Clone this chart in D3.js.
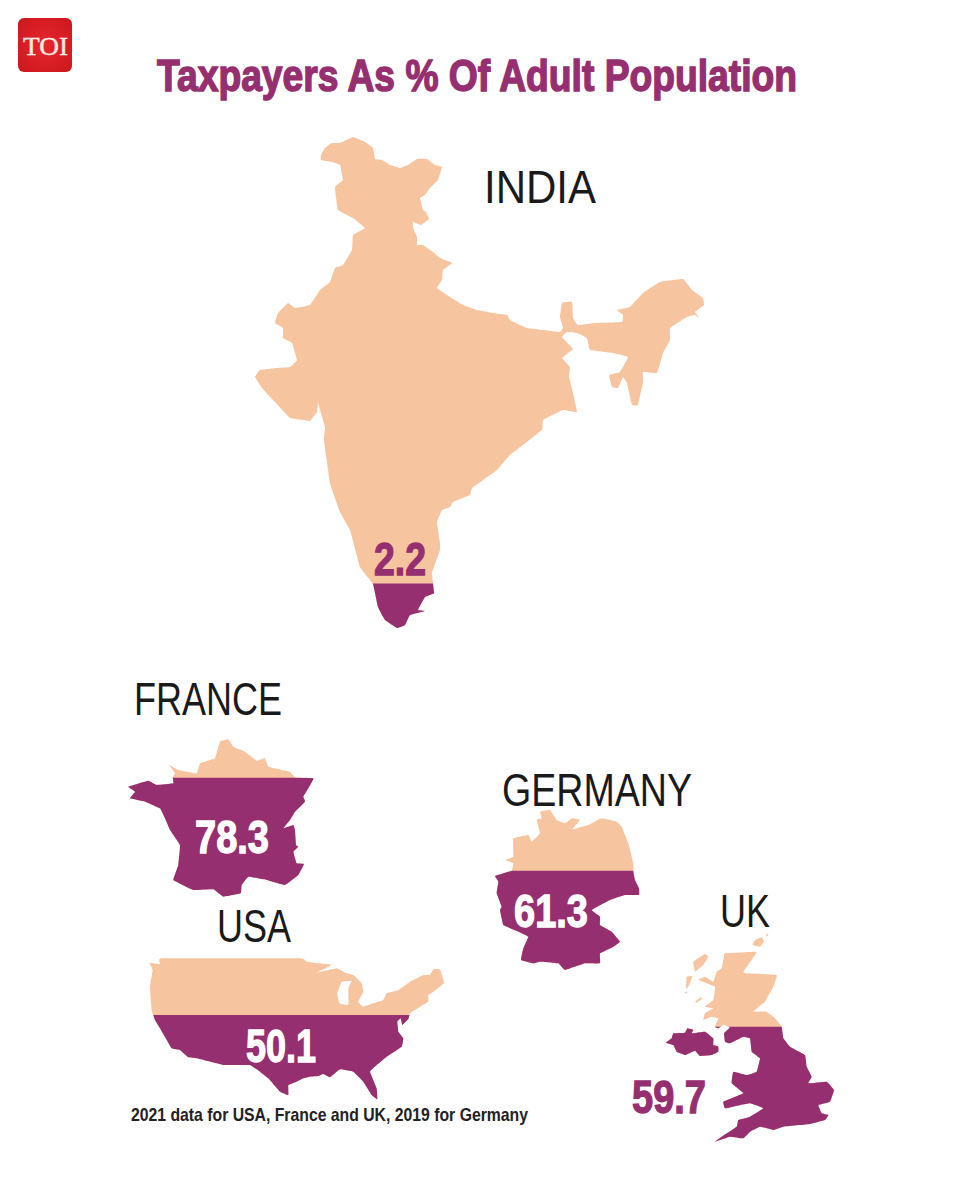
<!DOCTYPE html>
<html>
<head>
<meta charset="utf-8">
<style>
  html, body { margin: 0; background: #fff; }
  svg { display: block; }
  text { font-family: "Liberation Sans Narrow", "Liberation Sans", sans-serif; }
</style>
<script src="https://cdn.jsdelivr.net/npm/d3@7"></script>
</head>
<body>
<div id="chart"></div>
<script>
const titleText = "Taxpayers As % Of Adult Population";
const noteText = "2021 data for USA, France and UK, 2019 for Germany";
const countries = ["INDIA", "FRANCE", "USA", "GERMANY", "UK"];
const shares = [2.2, 78.3, 50.1, 61.3, 59.7];

// outlines are traced in each map's own local units, every ring closes on itself
const indiaRings = [[
  [71,25],[75,18],[82,13],[90,13],[103,7],[115,12],[123,18],[125,29],[132,30],[140,35],[150,38],[158,35],[167,29],[177,29],
  [185,35],[192,37],[188,50],[180,58],[175,65],[170,68],[173,80],[176,82],[179,89],[171,95],[163,92],[163,98],[167,107],
  [167,115],[173,115],[183,122],[190,128],[202,133],[193,140],[192,150],[187,158],[200,167],[213,175],[227,180],[243,183],
  [257,185],[260,190],[270,195],[277,198],[293,200],[310,202],[313,198],[310,187],[312,173],[322,172],[323,188],[328,195],
  [345,193],[372,192],[373,185],[367,180],[380,177],[393,163],[410,152],[433,149],[442,160],[453,168],[454,175],[445,182],
  [450,188],[445,185],[437,187],[420,198],[420,210],[413,223],[407,243],[393,242],[393,252],[388,275],[382,275],[377,253],
  [373,247],[368,258],[362,257],[359,245],[370,242],[378,227],[363,223],[340,220],[337,208],[327,203],[317,202],[312,207],
  [323,219],[312,228],[320,237],[319,247],[323,263],[327,282],[313,280],[293,290],[292,300],[260,325],[247,340],[222,358],
  [220,365],[203,372],[200,377],[192,380],[187,392],[190,413],[190,420],[182,443],[184,463],[175,467],[168,480],[175,481],
  [160,485],[155,495],[147,498],[135,490],[128,477],[123,454],[110,437],[100,400],[90,382],[80,353],[74,310],[75,297],
  [68,273],[67,282],[60,291],[53,290],[40,288],[25,272],[12,258],[5,247],[10,240],[27,238],[40,237],[47,230],[42,213],
  [33,208],[33,198],[25,193],[28,183],[38,173],[45,178],[60,175],[70,160],[80,152],[85,138],[93,135],[102,120],[103,105],
  [115,98],[103,88],[88,80],[85,57],[93,50],[90,35],[82,32],[71,30]
]];
const franceRings = [[
  [300,35],[325,28],[340,50],[375,65],[410,92],[435,85],[445,110],[510,125],[525,142],[580,145],[565,175],[550,200],[555,215],
  [525,245],[510,270],[490,295],[520,285],[525,300],[528,345],[535,350],[520,365],[530,400],[552,402],[535,435],[495,465],
  [440,450],[385,440],[365,465],[362,490],[310,500],[280,478],[220,480],[160,450],[175,405],[180,345],[150,300],[135,265],
  [120,235],[75,215],[30,205],[45,185],[25,170],[85,152],[110,165],[160,160],[158,142],[165,130],[148,105],[175,120],[230,130],
  [240,100],[285,85]
]];
const usaRings = [[
  [28,38],[60,42],[65,25],[480,25],[500,35],[540,40],[575,45],[530,68],[590,55],[615,68],[640,75],[665,100],[670,125],[655,155],
  [670,170],[700,160],[730,150],[740,130],[775,120],[810,95],[850,75],[870,75],[880,58],[900,58],[912,100],[880,125],[865,135],
  [865,155],[840,170],[810,190],[805,207],[787,225],[782,205],[772,215],[775,245],[790,265],[785,290],[740,320],[710,345],
  [690,365],[710,415],[712,448],[695,435],[670,395],[640,365],[600,358],[570,382],[550,372],[535,378],[510,380],[490,385],[470,395],
  [445,405],[445,435],[420,425],[385,385],[360,365],[330,345],[310,345],[280,345],[250,345],[170,325],[145,322],[120,300],[95,295],
  [60,235],[45,210],[35,180],[30,110],[38,60]
], [
  [605,95],[635,92],[625,115],[625,165],[598,160],[592,130]
]];
const germanyRings = [[
  [165,35],[195,30],[215,60],[240,70],[262,55],[285,60],[262,88],[310,75],[350,55],[395,65],[410,80],[430,130],[445,190],[445,215],
  [450,240],[462,265],[462,285],[420,285],[375,300],[320,330],[345,350],[345,375],[380,395],[405,425],[385,440],[345,460],[345,490],
  [300,490],[240,510],[220,490],[165,485],[145,490],[108,480],[115,445],[130,410],[100,395],[55,375],[45,330],[50,320],[35,280],
  [40,245],[30,228],[80,212],[85,190],[62,180],[85,170],[85,115],[130,105],[140,125],[165,100],[155,60],[170,55]
]];
const ukRings = [[
  [225,70],[320,65],[305,90],[280,125],[290,130],[380,135],[370,170],[345,215],[310,245],[350,245],[375,265],[395,290],[400,325],
  [420,350],[465,375],[470,410],[485,440],[475,460],[530,455],[552,480],[540,515],[505,525],[515,550],[535,555],[525,570],[480,582],
  [400,590],[370,600],[330,590],[300,605],[280,625],[240,620],[195,635],[215,620],[260,590],[265,570],[300,560],[340,535],[300,520],
  [250,530],[225,535],[220,515],[280,490],[245,460],[250,425],[290,435],[320,425],[330,385],[305,365],[300,325],[280,320],[240,340],
  [225,335],[222,310],[240,292],[220,285],[205,295],[195,290],[205,265],[185,260],[160,270],[165,250],[190,235],[165,230],[190,210],
  [195,170],[145,150],[165,140],[190,155],[200,125],[215,115],[222,80]
], [
  [130,95],[165,72],[175,80],[160,105],[135,125]
], [
  [110,140],[128,138],[115,170],[108,175]
], [
  [105,185],[112,185],[108,192]
], [
  [135,215],[155,200],[155,208],[140,218]
], [
  [315,30],[335,22],[342,35],[330,50],[308,45]
], [
  [348,12],[356,12],[350,20]
], [
  [48,338],[65,325],[70,310],[105,308],[112,295],[130,300],[125,310],[165,305],[190,325],[190,345],[205,350],[205,365],[185,375],
  [150,378],[135,362],[105,375],[80,365],[70,345]
]];
const outlines = [indiaRings, franceRings, usaRings, germanyRings, ukRings];

const width = 960;
const height = 1200;
const peach = "#f7c4a0";
const purple = "#962f70";

// unit = local units per page pixel, cut = local y where the purple fill starts
const placement = [
  { x: 250, y: 130, unit: 1, cut: 453.5, nameX: 484, nameY: 203, nameW: 112, labelX: 374, labelY: 575, labelW: 52, labelFill: purple },
  { x: 120, y: 730, unit: 3, cut: 143, nameX: 134, nameY: 715, nameW: 148, labelX: 195, labelY: 853, labelW: 74, labelFill: "#fff" },
  { x: 140, y: 950, unit: 3, cut: 195, nameX: 217, nameY: 942, nameW: 74, labelX: 246, labelY: 1062, labelW: 70, labelFill: "#fff" },
  { x: 485, y: 800, unit: 3, cut: 212, nameX: 502, nameY: 806, nameW: 190, labelX: 514, labelY: 927, labelW: 74, labelFill: "#fff" },
  { x: 650, y: 930, unit: 3, cut: 290, nameX: 720, nameY: 927, nameW: 50, labelX: 632, labelY: 1113, labelW: 74, labelFill: purple }
];

const svg = d3.select("#chart")
  .append("svg")
  .attr("width", width)
  .attr("height", height)
  .attr("viewBox", `0 0 ${width} ${height}`);

const defs = svg.append("defs");

// TOI badge
const badgeGrad = defs.append("radialGradient").attr("id", "badgeGrad").attr("r", "75%");
badgeGrad.append("stop").attr("offset", "0%").attr("stop-color", "#e8262c");
badgeGrad.append("stop").attr("offset", "100%").attr("stop-color", "#c9161d");

svg.append("rect")
  .attr("x", 18).attr("y", 18)
  .attr("width", 54).attr("height", 54)
  .attr("rx", 6)
  .attr("fill", "url(#badgeGrad)");

svg.append("text")
  .attr("x", 23).attr("y", 55)
  .attr("textLength", 45)
  .attr("lengthAdjust", "spacingAndGlyphs")
  .style("font-family", "'Liberation Serif', serif")
  .style("font-size", "26px")
  .attr("fill", "#fbeee6")
  .attr("stroke", "#fbeee6")
  .attr("stroke-width", 0.4)
  .text("TOI");

// Title
svg.append("text")
  .attr("x", 157).attr("y", 91)
  .attr("textLength", 640)
  .attr("lengthAdjust", "spacingAndGlyphs")
  .style("font-size", "45px")
  .style("font-weight", 700)
  .attr("fill", purple)
  .attr("stroke", purple)
  .attr("stroke-width", 1.5)
  .text(titleText);

// Maps
countries.forEach((name, i) => {
  const place = placement[i];
  const xScale = d3.scaleLinear().domain([0, 1]).range([place.x, place.x + 1 / place.unit]);
  const yScale = d3.scaleLinear().domain([0, 1]).range([place.y, place.y + 1 / place.unit]);
  const line = d3.line()
    .x((d) => xScale(d[0]))
    .y((d) => yScale(d[1]))
    .curve(d3.curveCardinalClosed.tension(0.8));
  const ringPath = outlines[i].map((ring) => line(ring)).join("");

  const g = svg.append("g").attr("class", "country");

  g.append("path")
    .attr("d", ringPath)
    .attr("fill", peach)
    .attr("fill-rule", "evenodd");

  const clipId = "fill-" + i;
  defs.append("clipPath").attr("id", clipId)
    .append("rect")
    .attr("x", 0).attr("width", width)
    .attr("y", yScale(place.cut))
    .attr("height", height - yScale(place.cut));

  g.append("path")
    .attr("d", ringPath)
    .attr("fill", purple)
    .attr("fill-rule", "evenodd")
    .attr("clip-path", `url(#${clipId})`);

  g.append("text")
    .attr("x", place.nameX).attr("y", place.nameY)
    .attr("textLength", place.nameW)
    .attr("lengthAdjust", "spacingAndGlyphs")
    .style("font-size", "47px")
    .attr("fill", "#1a1a1a")
    .text(name);

  g.append("text")
    .attr("x", place.labelX).attr("y", place.labelY)
    .attr("textLength", place.labelW)
    .attr("lengthAdjust", "spacingAndGlyphs")
    .style("font-size", "47px")
    .style("font-weight", 700)
    .attr("fill", place.labelFill)
    .attr("stroke", place.labelFill)
    .attr("stroke-width", 1.3)
    .text(shares[i].toFixed(1));
});

// Footnote
svg.append("text")
  .attr("x", 131).attr("y", 1121)
  .attr("textLength", 397)
  .attr("lengthAdjust", "spacingAndGlyphs")
  .style("font-size", "19px")
  .style("font-weight", 700)
  .attr("fill", "#222")
  .text(noteText);
</script>
</body>
</html>
